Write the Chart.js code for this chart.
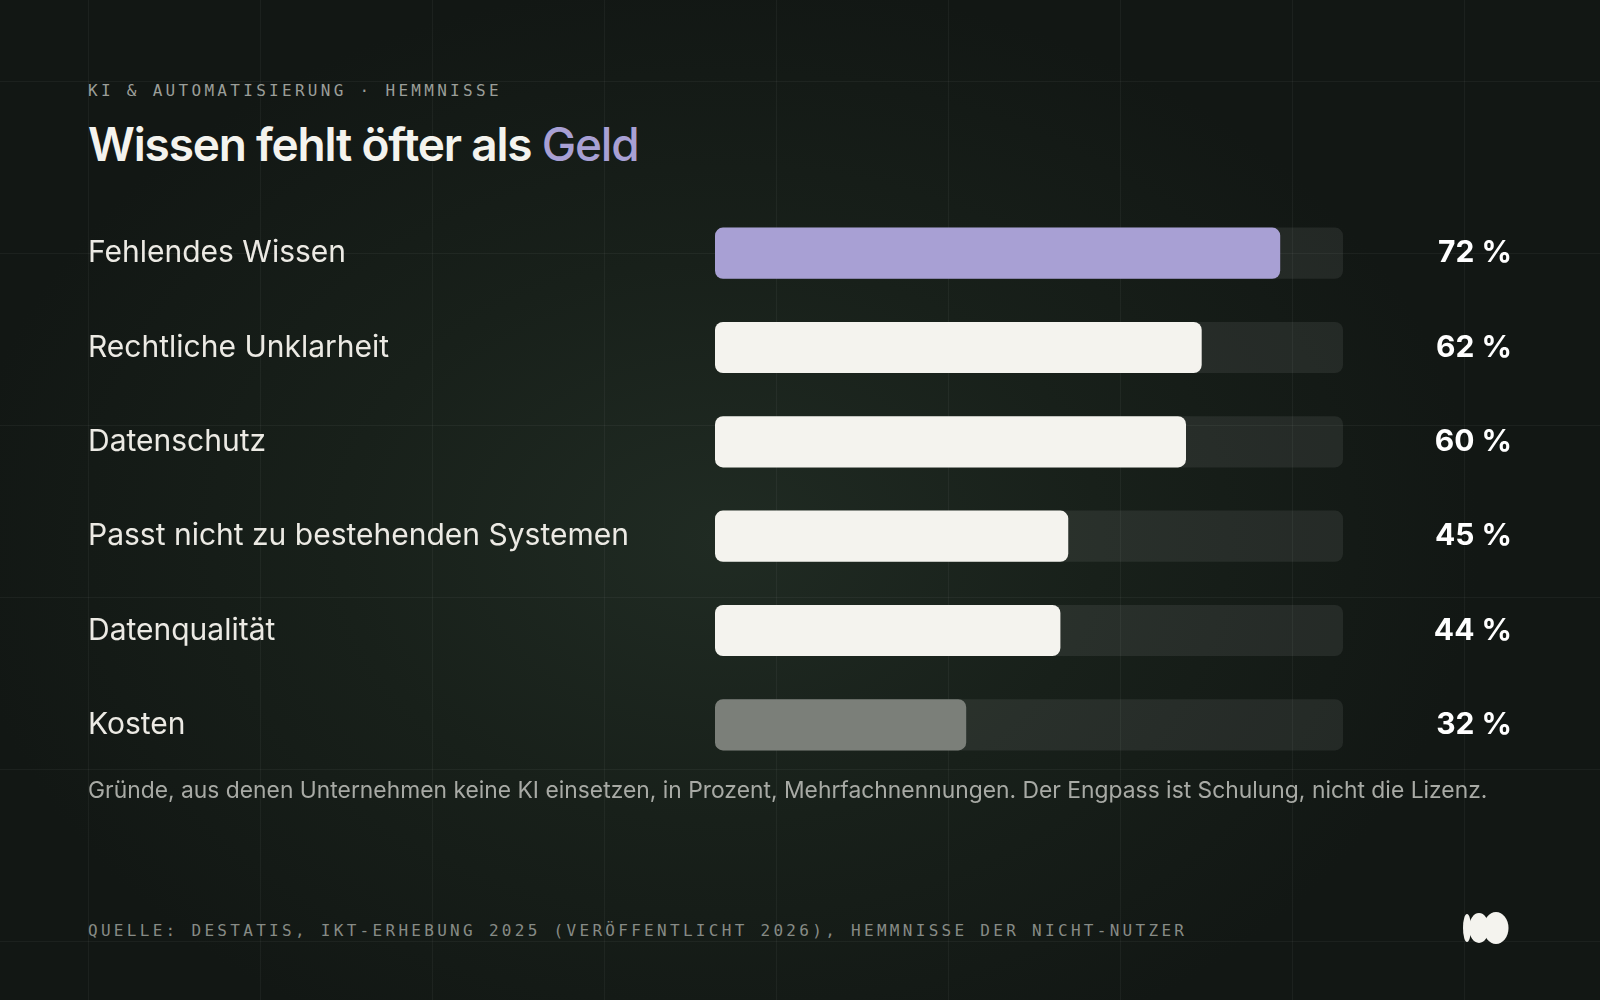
<!DOCTYPE html>
<html lang="de">
<head>
<meta charset="utf-8">
<title>Wissen fehlt öfter als Geld</title>
<script src="https://cdn.jsdelivr.net/npm/chart.js@4.4.1/dist/chart.umd.min.js"></script>
<style>
  html, body {
    margin: 0;
    padding: 0;
  }
  body {
    width: 1600px;
    height: 1000px;
    position: relative;
    overflow: hidden;
    background-color: #121714;
    background-image:
      linear-gradient(to right, rgba(255,255,255,0.045) 1px, transparent 1px),
      linear-gradient(to bottom, rgba(255,255,255,0.045) 1px, transparent 1px),
      radial-gradient(ellipse 760px 560px at 720px 540px, #202b23 0%, #18201a 50%, #121714 100%);
    background-size: 172px 172px, 172px 172px, 100% 100%;
    background-position: 88px 81px, 88px 81px, 0 0;
    font-family: Inter, "Noto Sans", sans-serif;
  }
  .eyebrow, .source {
    position: absolute;
    left: 88px;
    font-family: "DejaVu Sans Mono", monospace;
    font-size: 16px;
    letter-spacing: 3.3px;
    line-height: 1;
  }
  .eyebrow {
    top: 83px;
    color: #9b9e99;
  }
  .source {
    top: 923px;
    color: #878b86;
  }
  h1 {
    position: absolute;
    left: 88px;
    top: 121px;
    margin: 0;
    font-size: 46px;
    font-weight: 600;
    letter-spacing: -1.2px;
    line-height: 1;
    color: #f4f3ee;
  }
  h1 span {
    color: #a8a0d4;
    font-weight: 500;
  }
  .note {
    position: absolute;
    left: 88px;
    top: 779px;
    font-size: 22.85px;
    line-height: 1;
    color: #a8aaa5;
  }
  #chart {
    position: absolute;
    left: 88px;
    top: 188px;
  }
  .logo {
    position: absolute;
    left: 1462px;
    top: 911px;
  }
</style>
</head>
<body>
<div class="eyebrow">KI &amp; AUTOMATISIERUNG · HEMMNISSE</div>
<h1>Wissen fehlt öfter als <span>Geld</span></h1>
<canvas id="chart" width="1424" height="602"></canvas>
<div class="note">Gründe, aus denen Unternehmen keine KI einsetzen, in Prozent, Mehrfachnennungen. Der Engpass ist Schulung, nicht die Lizenz.</div>
<div class="source">QUELLE: DESTATIS, IKT-ERHEBUNG 2025 (VERÖFFENTLICHT 2026), HEMMNISSE DER NICHT-NUTZER</div>
<svg class="logo" width="48" height="34" viewBox="0 0 48 34">
  <ellipse cx="5" cy="17" rx="4" ry="14" fill="#f4f3ee"/>
  <ellipse cx="17" cy="17" rx="10" ry="15" fill="#f4f3ee"/>
  <ellipse cx="34" cy="17" rx="12.5" ry="16" fill="#f4f3ee"/>
</svg>

<script>
const categories = [
  'Fehlendes Wissen',
  'Rechtliche Unklarheit',
  'Datenschutz',
  'Passt nicht zu bestehenden Systemen',
  'Datenqualität',
  'Kosten'
];
const shares = [72, 62, 60, 45, 44, 32];
const scaleMax = 80; // the grey track runs to the end of the scale

const barColors = ['#a8a0d4', '#f4f3ee', '#f4f3ee', '#f4f3ee', '#f4f3ee', '#7b7f79'];
const trackColor = 'rgba(255,255,255,0.075)';

const shareLabels = shares.map(v => v + ' %');
const trackValues = categories.map(() => scaleMax);

const ctx = document.getElementById('chart').getContext('2d');

new Chart(ctx, {
  type: 'bar',
  data: {
    labels: categories,
    datasets: [
      {
        label: 'Anteil',
        data: shares,
        backgroundColor: barColors,
        borderRadius: 8,
        borderSkipped: false,
        grouped: false,
        order: 0
      },
      {
        label: 'Skala',
        data: trackValues,
        backgroundColor: trackColor,
        borderRadius: 8,
        borderSkipped: false,
        grouped: false,
        order: 1
      }
    ]
  },
  options: {
    indexAxis: 'y',
    responsive: false,
    animation: false,
    categoryPercentage: 0.543,
    barPercentage: 1,
    layout: { padding: 0 },
    plugins: {
      legend: { display: false },
      tooltip: { enabled: false }
    },
    scales: {
      x: {
        display: false,
        min: 0,
        max: scaleMax
      },
      y: {
        position: 'left',
        grid: { display: false },
        border: { display: false },
        ticks: {
          crossAlign: 'far',
          padding: 0,
          color: '#eceae4',
          font: { family: 'Inter', size: 30, weight: 400 }
        },
        afterFit(scale) {
          scale.width = 627; // bars start at x = 715
        }
      },
      y2: {
        type: 'category',
        position: 'right',
        labels: shareLabels,
        offset: true,
        grid: { display: false },
        border: { display: false },
        ticks: {
          crossAlign: 'far',
          padding: 0,
          color: '#ffffff',
          font: { family: 'Inter', size: 30, weight: 700 }
        },
        afterFit(scale) {
          scale.width = 169; // value labels end near x = 1512
        }
      }
    }
  }
});
</script>
</body>
</html>
